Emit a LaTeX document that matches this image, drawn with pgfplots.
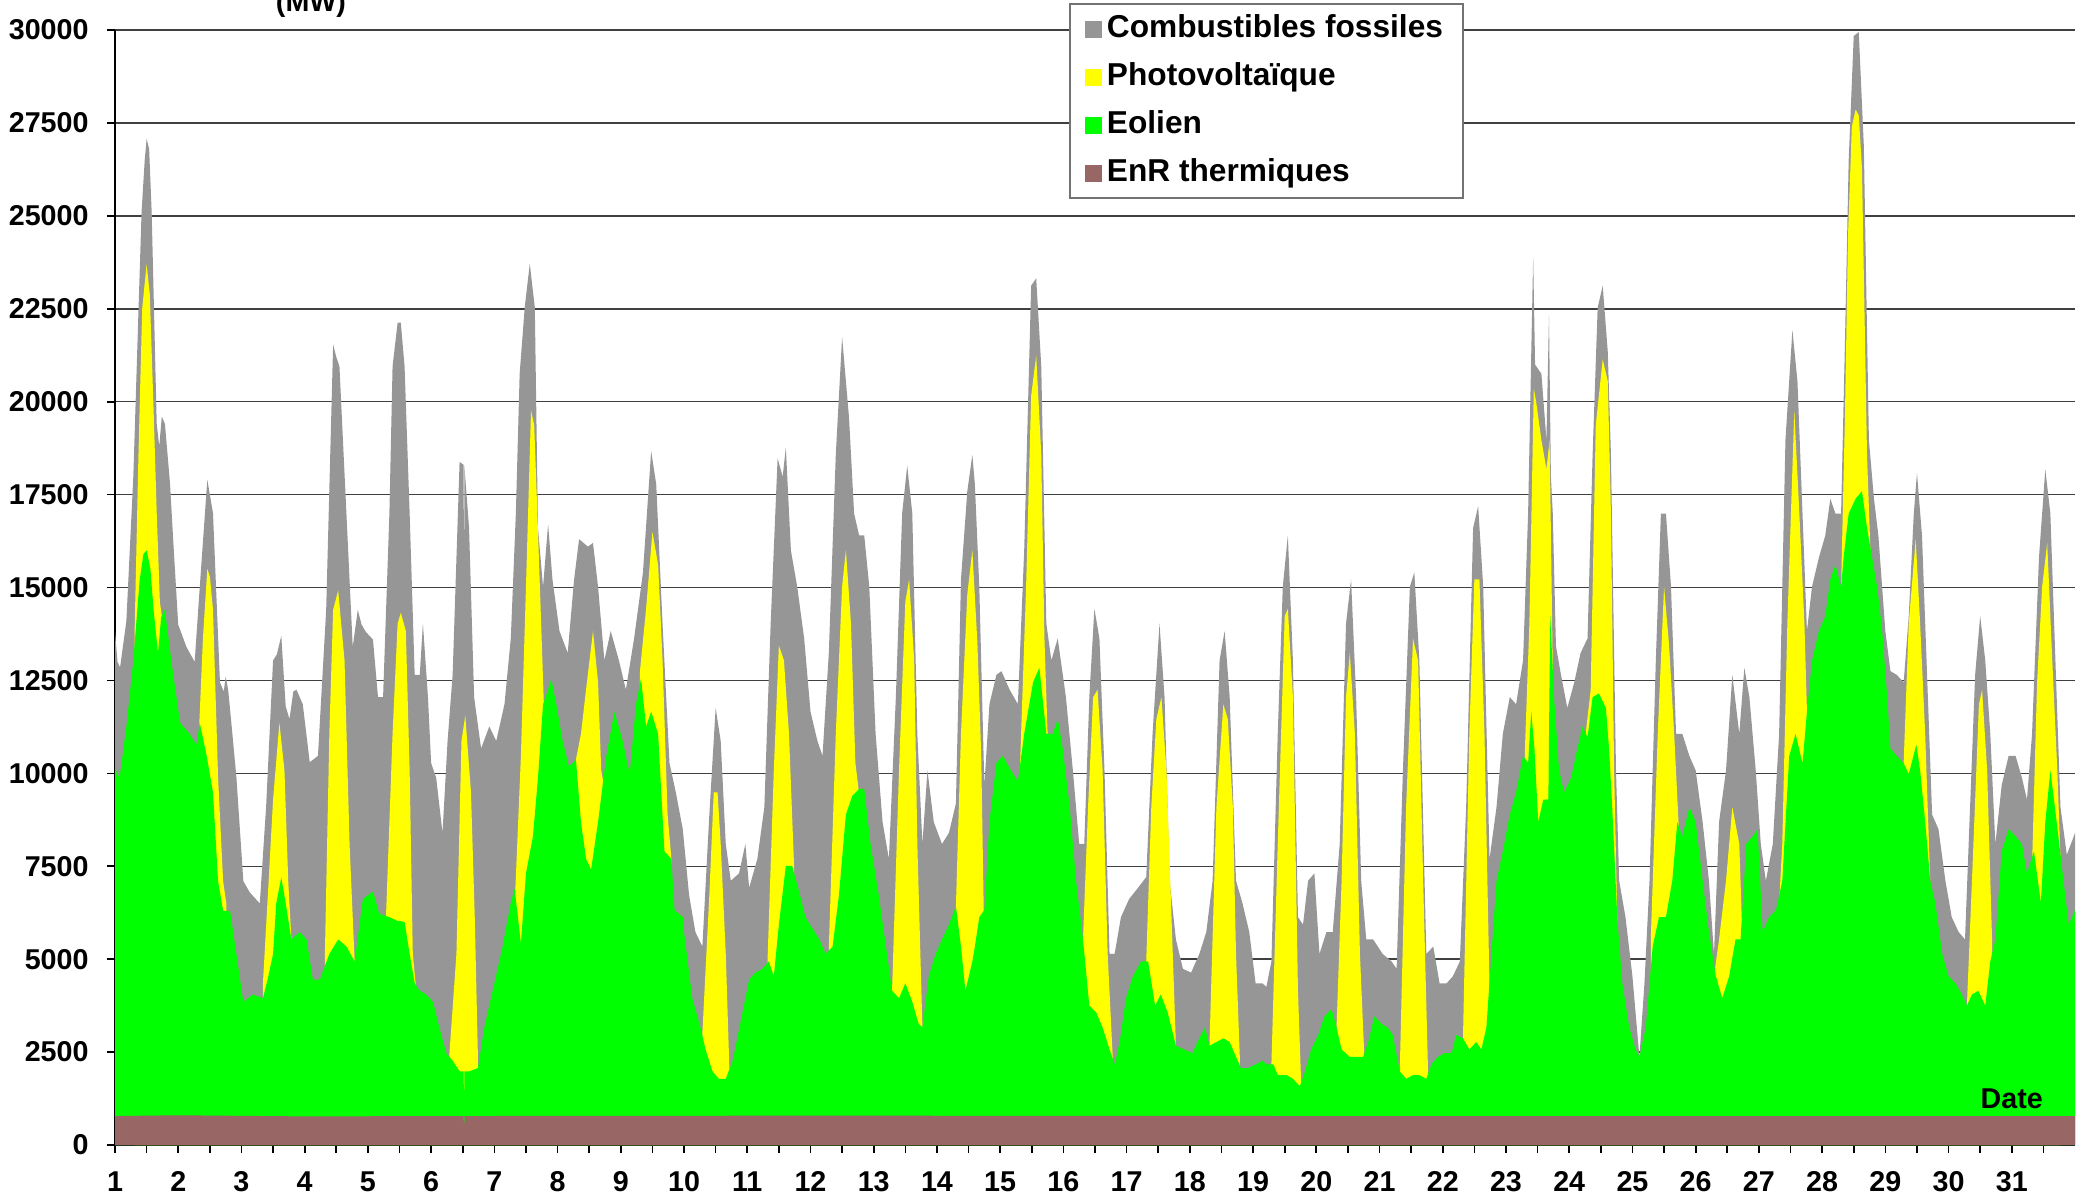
\documentclass[border=0pt]{standalone}
\usepackage{fontspec}
\setmainfont{Liberation Sans}
\usepackage{pgfplots}
\pgfplotsset{compat=1.18}
\definecolor{cfos}{RGB}{150,150,150}
\definecolor{cpv}{RGB}{255,255,0}
\definecolor{ceol}{RGB}{0,255,0}
\definecolor{cth}{RGB}{153,102,102}

\begin{document}
\begin{tikzpicture}
\begin{axis}[
  at={(0,0)}, anchor=south west,
  scale only axis, width=588pt, height=334.5pt,
  xmin=1, xmax=32, ymin=0, ymax=30000,
  axis lines*=left, axis line style={-, black, line width=0.6pt},
  xtick={1,...,31}, minor xtick={1.5,2.5,...,31.5},
  ytick={0,2500,...,30000},
  tick align=outside, major tick length=2.4pt, minor tick length=2.4pt,
  every tick/.style={black, line width=0.5pt},
  ymajorgrids, grid style={black!75, line width=0.45pt},
  scaled y ticks=false,
  /pgf/number format/assume math mode=true,
  yticklabel style={/pgf/number format/fixed, /pgf/number format/1000 sep={}, xshift=-2pt},
  xticklabel style={yshift=-2pt},
  tick label style={font=\fontsize{8.6}{10}\selectfont\bfseries},
  legend style={at={(0.4867,1.0242)}, anchor=north west, draw=black!55,
    line width=0.6pt, fill=white, inner xsep=4.5pt, inner ysep=3pt,
    row sep=5.4pt, font=\fontsize{9.5}{11}\selectfont\bfseries,
    nodes={inner xsep=1.5pt, inner ysep=0pt, text height=7pt, text depth=2pt}},
  legend cell align=left,
  legend image code/.code={\fill[#1] (0pt,-2.55pt) rectangle (5.1pt,2.55pt);},
]
% Combustibles fossiles (total, top of stack)
\addplot[fill=cfos, draw=none] coordinates {
(1.0,13800)(1.04,13000)(1.08,12850)(1.18,14100)(1.29,18000)(1.42,25100)(1.47,26500)(1.5,27070)(1.54,26800)(1.58,25100)(1.66,19400)(1.7,18800)(1.74,19600)(1.79,19400)(1.87,17800)(1.93,16000)(2.0,14000)(2.13,13400)(2.26,13000)(2.34,15000)(2.46,17900)(2.55,17000)(2.66,12450)(2.72,12200)(2.75,12600)(2.79,12250)(2.86,11000)(2.92,9900)(3.03,7100)(3.13,6800)(3.29,6500)(3.39,9100)(3.5,13040)(3.56,13200)(3.63,13700)(3.7,11800)(3.76,11460)(3.82,12200)(3.87,12250)(3.97,11860)(4.08,10300)(4.21,10470)(4.34,14400)(4.45,21540)(4.5,21200)(4.55,20950)(4.66,17000)(4.76,13400)(4.84,14400)(4.9,14000)(4.97,13800)(5.08,13600)(5.16,12050)(5.24,12050)(5.34,17000)(5.39,20950)(5.47,22130)(5.52,22130)(5.58,20950)(5.66,17000)(5.74,12650)(5.82,12650)(5.87,14030)(5.95,12050)(6.0,10275)(6.08,9880)(6.18,8400)(6.26,10870)(6.34,12650)(6.45,18380)(6.515,18300)(6.52,11300)(6.525,18300)(6.6,16600)(6.68,12050)(6.79,10670)(6.92,11260)(7.03,10870)(7.16,11860)(7.26,13630)(7.34,17000)(7.4,20750)(7.48,22530)(7.56,23710)(7.64,22530)(7.69,16600)(7.77,15020)(7.85,16700)(7.92,15200)(8.03,13830)(8.16,13240)(8.26,15200)(8.34,16300)(8.48,16100)(8.56,16200)(8.64,15020)(8.74,13040)(8.84,13830)(8.97,13040)(9.08,12250)(9.21,13630)(9.35,15400)(9.48,18670)(9.56,17780)(9.66,14030)(9.77,10275)(9.87,9490)(9.98,8500)(10.08,6720)(10.18,5730)(10.29,5340)(10.4,8890)(10.5,11760)(10.58,10870)(10.66,8100)(10.74,7110)(10.87,7310)(10.97,8100)(11.03,6920)(11.16,7700)(11.27,9090)(11.37,14030)(11.48,18480)(11.56,17980)(11.61,18770)(11.69,16000)(11.79,15020)(11.9,13630)(12.0,11660)(12.11,10870)(12.19,10470)(12.29,13240)(12.4,18570)(12.5,21740)(12.61,19560)(12.69,16990)(12.77,16400)(12.85,16400)(12.93,15020)(13.03,11060)(13.14,8690)(13.24,7700)(13.35,12050)(13.45,17000)(13.53,18280)(13.61,17000)(13.69,11060)(13.77,8100)(13.85,10080)(13.95,8690)(14.08,8100)(14.19,8400)(14.3,9190)(14.38,15220)(14.48,17590)(14.56,18570)(14.6,17780)(14.67,15020)(14.75,9680)(14.83,11860)(14.94,12650)(15.02,12750)(15.15,12250)(15.28,11860)(15.38,16000)(15.49,23120)(15.57,23320)(15.65,20950)(15.73,14030)(15.81,13040)(15.91,13630)(16.04,12050)(16.15,10080)(16.25,8100)(16.33,8100)(16.41,12050)(16.49,14430)(16.57,13630)(16.65,10080)(16.73,5140)(16.81,5140)(16.91,6130)(17.04,6620)(17.18,6920)(17.31,7210)(17.41,11060)(17.52,14030)(17.6,12050)(17.68,7110)(17.78,5530)(17.89,4740)(18.02,4640)(18.15,5140)(18.26,5730)(18.36,7110)(18.47,13040)(18.55,13830)(18.63,12050)(18.73,7110)(18.83,6520)(18.94,5730)(19.04,4350)(19.15,4350)(19.21,4250)(19.29,4940)(19.39,11060)(19.47,15020)(19.55,16400)(19.63,13040)(19.71,6130)(19.79,5930)(19.87,7110)(19.97,7310)(20.05,5140)(20.16,5730)(20.26,5730)(20.37,8100)(20.47,14030)(20.55,15220)(20.63,12050)(20.71,7110)(20.79,5530)(20.9,5530)(21.05,5140)(21.19,4940)(21.27,4740)(21.37,10080)(21.48,15020)(21.55,15410)(21.63,13040)(21.74,5140)(21.85,5340)(21.95,4350)(22.06,4350)(22.16,4540)(22.27,4940)(22.37,9090)(22.48,16600)(22.56,17190)(22.64,15020)(22.74,7700)(22.85,9090)(22.95,11060)(23.06,12050)(23.16,11860)(23.27,13040)(23.35,17000)(23.4,21340)(23.43,23900)(23.46,21000)(23.5,20900)(23.56,20750)(23.64,18970)(23.68,22330)(23.71,18000)(23.74,17000)(23.79,13430)(23.87,12650)(23.97,11760)(24.08,12450)(24.18,13240)(24.29,13630)(24.37,18570)(24.45,22530)(24.53,23120)(24.61,21340)(24.66,18570)(24.74,10080)(24.79,7110)(24.89,6130)(25.0,4540)(25.11,2370)(25.19,4350)(25.27,7110)(25.37,13040)(25.45,16990)(25.53,16990)(25.61,15020)(25.69,11060)(25.79,11060)(25.9,10470)(26.0,10080)(26.11,8690)(26.21,7110)(26.29,5140)(26.37,8690)(26.48,10080)(26.58,12650)(26.69,11060)(26.77,12840)(26.85,12050)(26.95,10080)(27.03,8100)(27.11,7110)(27.22,8100)(27.32,11060)(27.42,18970)(27.53,21930)(27.61,20550)(27.69,16990)(27.76,13830)(27.84,15020)(27.95,15810)(28.05,16400)(28.13,17390)(28.21,16990)(28.3,16990)(28.36,21500)(28.42,26480)(28.5,29840)(28.58,29940)(28.66,26870)(28.74,18970)(28.82,17390)(28.89,16400)(29.0,13830)(29.08,12750)(29.18,12650)(29.29,12450)(29.37,14230)(29.45,16990)(29.5,18080)(29.58,16400)(29.66,12650)(29.74,8890)(29.84,8500)(29.95,7110)(30.05,6130)(30.16,5730)(30.26,5530)(30.34,9090)(30.42,12650)(30.5,14230)(30.58,13040)(30.66,11060)(30.74,8100)(30.84,9680)(30.95,10470)(31.06,10470)(31.16,9880)(31.24,9290)(31.32,11060)(31.43,15810)(31.53,18180)(31.61,16990)(31.69,13040)(31.77,9090)(31.87,7810)(31.98,8300)(32,8400)
} \closedcycle;
\addlegendentry{Combustibles fossiles}
% Photovoltaique (top of stack during daylight)
\addplot[fill=cpv, draw=none] coordinates {
(1.31,0)(1.31,13800)(1.37,18500)(1.43,22500)(1.5,23700)(1.55,22900)(1.61,19800)(1.66,17000)(1.71,14600)(1.76,14000)(1.76,0)
(2.33,0)(2.33,11200)(2.39,13600)(2.46,15500)(2.5,15300)(2.55,14400)(2.63,9900)(2.71,7100)(2.76,6500)(2.76,0)
(3.34,0)(3.34,4350)(3.42,6800)(3.5,9290)(3.6,11360)(3.68,10080)(3.74,7100)(3.79,5530)(3.79,0)
(4.32,0)(4.32,5140)(4.39,11060)(4.45,14400)(4.53,14920)(4.63,13040)(4.71,8100)(4.79,4940)(4.79,0)
(5.29,0)(5.29,6320)(5.39,11060)(5.47,14030)(5.52,14320)(5.6,13830)(5.66,10080)(5.71,5140)(5.76,4250)(5.76,0)
(6.29,0)(6.29,2470)(6.4,5140)(6.48,10870)(6.54,11560)(6.63,9490)(6.69,6130)(6.74,2370)(6.74,0)
(7.33,0)(7.33,6800)(7.42,10470)(7.5,15020)(7.58,19760)(7.63,19370)(7.68,17000)(7.74,14030)(7.8,11000)(7.8,0)
(8.29,0)(8.29,10370)(8.37,11060)(8.45,12250)(8.56,13830)(8.64,12450)(8.69,10080)(8.72,9800)(8.72,0)
(9.3,0)(9.3,12700)(9.4,14430)(9.5,16500)(9.59,15610)(9.66,13040)(9.74,8890)(9.8,7700)(9.8,0)
(10.29,0)(10.29,3000)(10.4,6720)(10.47,9490)(10.53,9490)(10.58,8100)(10.66,5140)(10.72,1900)(10.72,0)
(11.32,0)(11.32,4940)(11.42,10080)(11.5,13440)(11.58,13040)(11.66,11060)(11.74,7510)(11.74,0)
(12.29,0)(12.29,5300)(12.4,11060)(12.5,15020)(12.56,16010)(12.64,14030)(12.71,10280)(12.76,9580)(12.76,0)
(13.29,0)(13.29,4150)(13.4,10080)(13.5,14620)(13.56,15220)(13.64,13040)(13.69,8100)(13.77,3160)(13.77,0)
(14.3,0)(14.3,6420)(14.38,11060)(14.48,14820)(14.56,16010)(14.64,13500)(14.7,10500)(14.74,6320)(14.74,0)
(15.31,0)(15.31,10000)(15.41,15020)(15.49,20160)(15.57,21240)(15.65,18570)(15.7,13630)(15.75,11060)(15.75,0)
(16.31,0)(16.31,5530)(16.39,9090)(16.47,12050)(16.54,12250)(16.62,10080)(16.7,5140)(16.78,2370)(16.78,0)
(17.31,0)(17.31,4940)(17.39,9090)(17.47,11460)(17.55,12050)(17.63,10080)(17.71,6130)(17.78,2670)(17.78,0)
(18.31,0)(18.31,2670)(18.42,9090)(18.53,11860)(18.6,11460)(18.68,9090)(18.73,5140)(18.79,2370)(18.79,0)
(19.29,0)(19.29,2170)(19.39,8100)(19.5,14230)(19.55,14430)(19.63,12050)(19.71,4150)(19.76,1680)(19.76,0)
(20.32,0)(20.32,3160)(20.4,7110)(20.47,12050)(20.53,13240)(20.61,11060)(20.69,5140)(20.76,2370)(20.76,0)
(21.32,0)(21.32,1980)(21.42,9090)(21.53,13630)(21.61,13040)(21.69,7110)(21.77,1800)(21.77,0)
(22.32,0)(22.32,2870)(22.42,11060)(22.5,15220)(22.58,15220)(22.66,11060)(22.74,4200)(22.74,0)
(23.3,0)(23.3,10670)(23.37,14030)(23.44,20360)(23.48,19960)(23.56,18970)(23.64,18180)(23.69,18970)(23.74,12800)(23.74,0)
(24.26,0)(24.26,11060)(24.34,12250)(24.42,19370)(24.53,21140)(24.61,20550)(24.66,16990)(24.71,10080)(24.76,6130)(24.76,0)
(25.29,0)(25.29,5530)(25.4,11060)(25.5,15020)(25.58,13440)(25.66,11060)(25.74,8300)(25.74,0)
(26.29,0)(26.29,4540)(26.37,5530)(26.48,7110)(26.58,9090)(26.69,8100)(26.74,5530)(26.74,0)
(27.32,0)(27.32,6520)(27.37,8100)(27.45,14030)(27.56,19760)(27.64,16990)(27.72,14030)(27.76,11660)(27.76,0)
(28.3,0)(28.3,15020)(28.36,19500)(28.41,24500)(28.47,27400)(28.53,27860)(28.58,27700)(28.63,26280)(28.71,18570)(28.77,15700)(28.77,0)
(29.29,0)(29.29,10300)(29.37,14030)(29.48,16300)(29.55,14030)(29.63,11060)(29.71,7110)(29.71,0)
(30.29,0)(30.29,3750)(30.37,7110)(30.48,11860)(30.53,12250)(30.61,10080)(30.69,5400)(30.69,0)
(31.32,0)(31.32,7500)(31.4,12450)(31.48,15020)(31.56,16200)(31.64,13040)(31.72,10080)(31.77,7700)(31.77,0)
} \closedcycle;
\addlegendentry{Photovoltaïque}
% Eolien (top of wind layer)
\addplot[fill=ceol, draw=none] coordinates {
(1.0,10270)(1.04,9900)(1.08,9980)(1.18,11260)(1.29,13040)(1.39,15200)(1.45,15900)(1.5,16000)(1.56,15500)(1.61,14400)(1.68,13240)(1.73,14200)(1.79,14400)(1.89,13040)(2.03,11360)(2.18,11060)(2.29,10770)(2.34,11360)(2.45,10470)(2.55,9485)(2.63,7100)(2.71,6300)(2.82,6300)(2.92,5140)(3.03,3850)(3.18,4050)(3.34,3950)(3.42,4500)(3.5,5140)(3.55,6500)(3.63,7200)(3.7,6500)(3.79,5530)(3.92,5730)(4.03,5530)(4.13,4450)(4.24,4450)(4.39,5140)(4.53,5530)(4.66,5340)(4.79,4940)(4.92,6620)(5.08,6820)(5.18,6220)(5.34,6130)(5.47,6030)
(5.5,6030)(5.58,6000)(5.66,5140)(5.74,4350)(5.82,4150)(5.92,4050)(6.03,3850)(6.13,3160)(6.24,2470)(6.34,2270)(6.45,1980)(6.515,1980)(6.52,0)(6.525,1980)(6.6,1980)(6.74,2070)(6.84,3160)(7.0,4350)(7.13,5340)(7.26,6520)(7.32,6900)(7.42,5430)(7.5,7310)(7.61,8300)(7.69,9880)(7.77,11860)(7.85,12250)(7.9,12550)(7.98,11860)(8.08,10870)(8.18,10180)(8.29,10370)(8.37,8690)(8.45,7700)(8.53,7410)(8.64,8690)(8.77,10470)(8.9,11660)(9.03,10870)(9.14,9980)(9.24,11860)(9.32,12550)(9.4,11260)(9.48,11660)(9.59,11060)(9.69,7900)(9.8,7700)(9.85,6320)(9.98,6130)
(10.0,5730)(10.13,3950)(10.26,3160)(10.34,2570)(10.45,1980)(10.55,1780)(10.66,1780)(10.77,2270)(10.9,3360)(11.03,4450)(11.13,4640)(11.24,4740)(11.34,4940)(11.42,4540)(11.5,5930)(11.61,7510)(11.71,7510)(11.82,6820)(11.92,6130)(12.03,5830)(12.14,5530)(12.24,5140)(12.35,5340)(12.45,6720)(12.56,8890)(12.66,9390)(12.77,9580)(12.85,9580)(12.95,8100)(13.08,6720)(13.21,5140)(13.29,4150)(13.4,3950)(13.5,4350)(13.61,3850)(13.71,3260)(13.77,3160)(13.87,4540)(13.98,5140)(14.08,5530)(14.19,5930)(14.3,6420)(14.38,5340)(14.45,4150)(14.56,4940)(14.6,5340)(14.67,6130)(14.75,6320)(14.83,8690)(14.94,10280)
(15.04,10470)(15.17,10080)(15.28,9780)(15.38,11060)(15.52,12450)(15.62,12840)(15.73,11060)(15.83,11060)(15.91,11460)(15.99,10670)(16.1,9090)(16.2,7110)(16.31,5530)(16.41,3750)(16.52,3560)(16.62,3160)(16.73,2570)(16.81,2170)(16.89,2770)(16.99,3950)(17.1,4540)(17.23,4940)(17.34,4940)(17.45,3750)(17.54,4050)(17.65,3560)(17.78,2670)(17.91,2570)(18.04,2470)(18.15,2870)(18.24,3160)(18.31,2670)(18.42,2770)(18.53,2870)(18.63,2770)(18.73,2370)(18.81,2070)(18.92,2070)(19.04,2170)(19.15,2270)
(19.21,2170)(19.32,2170)(19.39,1880)(19.53,1880)(19.63,1780)(19.74,1580)(19.82,1980)(19.92,2570)(20.03,2960)(20.13,3460)(20.24,3660)(20.32,3160)(20.4,2570)(20.53,2370)(20.63,2370)(20.74,2370)(20.82,2770)(20.92,3460)(21.03,3260)(21.13,3160)(21.21,2960)(21.32,1980)(21.42,1780)(21.53,1880)(21.63,1880)(21.74,1780)(21.82,2170)(21.92,2370)(22.03,2470)(22.14,2470)(22.21,2960)(22.32,2870)(22.42,2570)(22.53,2770)(22.61,2570)(22.69,3160)(22.77,5140)(22.85,7110)(22.95,7900)(23.06,8890)(23.16,9490)(23.27,10470)(23.35,10280)(23.4,11660)(23.45,10670)(23.51,8690)(23.59,9290)(23.67,9300)(23.7,14230)(23.76,12050)(23.84,10080)(23.92,9490)
(24.03,9880)(24.13,10670)(24.21,11260)(24.29,10970)(24.37,12050)(24.47,12150)(24.58,11760)(24.63,10670)(24.68,9090)(24.76,6130)(24.84,4350)(24.95,3160)(25.05,2570)(25.11,2370)(25.21,3160)(25.32,5340)(25.42,6130)(25.53,6130)(25.63,7110)(25.71,8690)(25.79,8300)(25.9,9090)(26.0,8690)(26.11,7110)(26.21,5730)(26.32,4540)(26.42,3950)(26.53,4540)(26.63,5530)(26.71,5530)(26.8,8100)(26.9,8300)(26.98,8500)(27.06,5730)(27.16,6130)(27.27,6320)(27.37,7110)(27.48,10470)(27.58,11060)(27.69,10270)(27.76,11660)(27.84,13040)(27.95,13830)(28.05,14230)(28.13,15220)(28.21,15610)(28.3,15020)
(28.34,15810)(28.42,16990)(28.53,17390)(28.63,17590)(28.71,16600)(28.79,15810)(28.87,15020)(28.95,13830)(29.03,12050)(29.08,10670)(29.18,10470)(29.29,10270)(29.37,9980)(29.49,10770)(29.55,10080)(29.63,8690)(29.71,7110)(29.79,6520)(29.9,5140)(30.0,4540)(30.11,4350)(30.21,4050)(30.29,3750)(30.37,4050)(30.47,4150)(30.58,3750)(30.66,4940)(30.74,5530)(30.84,7900)(30.95,8500)(31.06,8300)(31.16,8100)(31.24,7310)(31.35,7900)(31.46,6520)(31.53,8690)(31.61,10080)(31.71,8690)(31.79,7510)(31.9,5930)(32.0,6320)
} \closedcycle;
\addlegendentry{Eolien}
% EnR thermiques
\addplot[fill=cth, draw=none] coordinates {
(1,780)(2,800)(4,770)(6.515,780)(6.52,0)(6.525,780)(12,790)(20,780)(32,780)
} \closedcycle;
\addlegendentry{EnR thermiques}

\node[anchor=base, font=\fontsize{8.6}{10}\selectfont\bfseries] at (axis cs:31.0,995) {Date};
\end{axis}
% unit label, cut by the top edge as in the original
\node[anchor=base, font=\fontsize{8.6}{10}\selectfont\bfseries] at (58.8pt,340.2pt) {(MW)};
\pgfresetboundingbox
\useasboundingbox (-34.5pt,-16.5pt) rectangle (588.6pt,343.5pt);
\end{tikzpicture}
\end{document}
